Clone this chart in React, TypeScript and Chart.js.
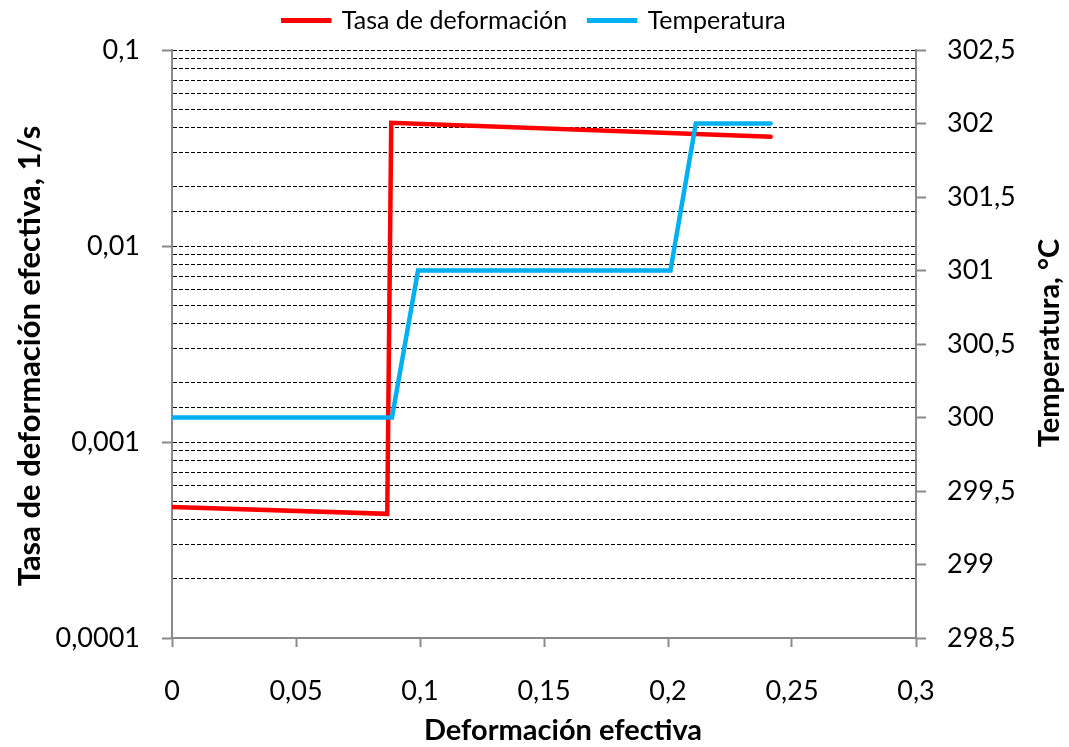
import React, { useEffect, useRef } from 'react';
import { Chart, registerables } from 'chart.js';

Chart.register(...registerables);

const FONT = 'Lato, "Open Sans", sans-serif';
const AXIS = '#8a8a8a';

// Data
const rateStrain = [0, 0.0868, 0.0884, 0.2414];
const rateValues = [0.000466, 0.00043, 0.0425, 0.0361];
const tempStrain = [0, 0.0887, 0.0992, 0.201, 0.2112, 0.2414];
const tempValues = [300, 300, 301, 301, 302, 302];

const xTickLabels = ['0', '0,05', '0,1', '0,15', '0,2', '0,25', '0,3'];
const leftTickLabels = ['0,0001', '0,001', '0,01', '0,1'];
const rightTickLabels = ['298,5', '299', '299,5', '300', '300,5', '301', '301,5', '302', '302,5'];
const seriesNames = ['Tasa de deformación', 'Temperatura'];
const seriesColors = ['#ff0000', '#00b0f0'];
const xTitle = 'Deformación efectiva';
const leftTitle = 'Tasa de deformación efectiva, 1/s';
const rightTitle = 'Temperatura, °C';

const isDecade = (v: number) => {
  const l = Math.log10(v);
  return Math.abs(l - Math.round(l)) < 1e-6;
};

const axisTitlesPlugin = {
  id: 'axisTitles',
  afterLayout(chart: any) {
    const lg = chart.legend;
    if (lg) {
      lg.top -= 7;
      lg.bottom -= 7;
    }
  },
  afterDraw(chart: any) {
    const ctx = chart.ctx;
    const draw = (text: string, x: number, y: number, size: number, rotate: boolean) => {
      ctx.save();
      ctx.translate(x, y);
      if (rotate) ctx.rotate(-Math.PI / 2);
      ctx.font = `bold ${size}px ${FONT}`;
      ctx.fillStyle = '#000';
      ctx.textAlign = 'center';
      ctx.textBaseline = 'middle';
      ctx.fillText(text, 0, 0);
      ctx.restore();
    };
    draw(leftTitle, 30, 356, 31, true);
    draw(rightTitle, 1050, 343, 29, true);
    draw(xTitle, 563, 731, 29, false);
  },
};

export default function App() {
  const ref = useRef<HTMLCanvasElement>(null);
  useEffect(() => {
    document.body.style.margin = '0';
    const canvas = ref.current!;
    const chart = new Chart(canvas, {
      type: 'scatter',
      data: {
        datasets: [
          {
            label: seriesNames[0],
            data: rateStrain.map((x, i) => ({ x, y: rateValues[i] })),
            showLine: true,
            borderColor: seriesColors[0],
            backgroundColor: seriesColors[0],
            borderWidth: 4.5,
            pointRadius: 0,
            borderCapStyle: 'round',
            borderJoinStyle: 'miter',
            yAxisID: 'y',
            order: 1,
          },
          {
            label: seriesNames[1],
            data: tempStrain.map((x, i) => ({ x, y: tempValues[i] })),
            showLine: true,
            borderColor: seriesColors[1],
            backgroundColor: seriesColors[1],
            borderWidth: 4.5,
            pointRadius: 0,
            borderCapStyle: 'round',
            borderJoinStyle: 'miter',
            yAxisID: 'y2',
            order: 0,
          },
        ],
      } as any,
      options: {
        responsive: false,
        animation: false,
        layout: { padding: { top: -21, left: 0, right: 0, bottom: 0 } },
        plugins: {
          tooltip: { enabled: false },
          legend: {
            position: 'top',
            labels: {
              font: { family: FONT, size: 25 },
              color: '#000',
              boxWidth: 46,
              boxHeight: 0.5,
              padding: 22,
              sort: (a: any, b: any) => a.datasetIndex - b.datasetIndex,
            },
          },
        },
        scales: {
          x: {
            type: 'linear',
            min: 0,
            max: 0.3,
            ticks: {
              stepSize: 0.05,
              callback: (_v: any, i: number) => xTickLabels[i],
              font: { family: FONT, size: 27 },
              color: '#000',
              padding: 28,
              maxRotation: 0,
            },
            grid: {
              drawOnChartArea: false,
              drawTicks: true,
              tickLength: 9,
              tickColor: AXIS,
              tickWidth: 2,
            },
            border: { color: AXIS, width: 2 },
            afterFit: (s: any) => {
              s.height = 109;
            },
          },
          y: {
            type: 'logarithmic',
            position: 'left',
            min: 0.0001,
            max: 0.1,
            ticks: {
              autoSkip: false,
              callback: (v: any) => {
                const n = Number(v);
                if (!isDecade(n)) return '';
                return leftTickLabels[Math.round(Math.log10(n)) + 4];
              },
              font: { family: FONT, size: 27 },
              color: '#000',
              padding: 22,
            },
            grid: {
              color: (c: any) => (c.tick && Math.abs(c.tick.value - 0.0001) < 1e-9 ? 'transparent' : '#000'),
              lineWidth: 1,
              drawTicks: true,
              tickLength: 10,
              tickWidth: 2,
              tickColor: (c: any) => (c.tick && isDecade(c.tick.value) ? AXIS : 'transparent'),
            },
            border: { color: AXIS, width: 2, dash: [4, 2] },
            afterFit: (s: any) => {
              s.width = 172;
              s.paddingTop = 50;
            },
          },
          y2: {
            type: 'linear',
            position: 'right',
            min: 298.5,
            max: 302.5,
            ticks: {
              stepSize: 0.5,
              callback: (_v: any, i: number) => rightTickLabels[i],
              font: { family: FONT, size: 27 },
              color: '#000',
              padding: 21,
            },
            grid: {
              drawOnChartArea: false,
              drawTicks: true,
              tickLength: 10,
              tickWidth: 2,
              tickColor: AXIS,
            },
            border: { color: AXIS, width: 2 },
            afterFit: (s: any) => {
              s.width = 153;
            },
          },
        },
      } as any,
      plugins: [axisTitlesPlugin],
    });
    return () => chart.destroy();
  }, []);
  return (
    <div style={{ position: 'absolute', left: 0, top: 0, width: 1069, height: 747 }}>
      <canvas ref={ref} width={1069} height={747} style={{ display: 'block' }} />
    </div>
  );
}
